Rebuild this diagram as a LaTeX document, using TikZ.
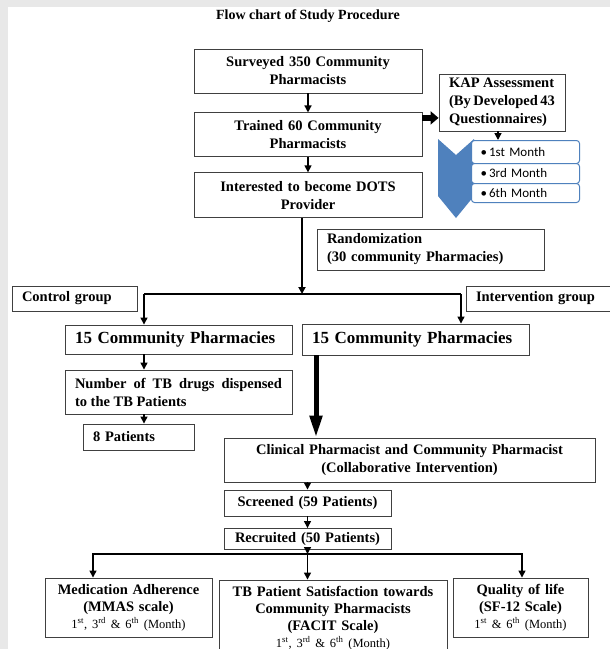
\documentclass[tikz,border=0pt]{standalone}
\usepackage{fontspec}
\setmainfont{Liberation Serif}
\newfontfamily\listfont{Carlito}
\usetikzlibrary{arrows.meta,positioning}
\definecolor{pagegrey}{RGB}{232,232,232}
\definecolor{officeblue}{RGB}{79,129,189}
\newcommand\flowfont{\bfseries\fontsize{14.5}{18}\selectfont}
\newcommand\bigflowfont{\bfseries\fontsize{17}{20}\selectfont}
\newcommand\monthfont{\mdseries\fontsize{12.5}{15}\selectfont}

\begin{document}
\begin{tikzpicture}[
  x=1pt,
  y=-1pt,
  procbox/.style={
    draw=black!75,
    line width=0.9pt,
    fill=white,
    inner xsep=10pt,
    inner ysep=2pt,
    font=\flowfont
  },
  listbox/.style={
    draw=officeblue,
    line width=1pt,
    fill=white,
    rounded corners=3pt,
    inner xsep=9pt,
    inner ysep=0pt,
    text width=90pt,
    align=left,
    anchor=north west,
    font=\listfont\fontsize{13}{15}\selectfont
  },
  thinarrow/.style={-{Triangle[width=7pt,length=7pt]},line width=1.4pt},
  trunk/.style={-{Triangle[width=7pt,length=7pt]},line width=2pt},
  bigarrow/.style={-{Triangle[width=13pt,length=8pt]},line width=6pt}
]
  \useasboundingbox (0,0) rectangle (610,649);
  \fill[pagegrey] (0,0) rectangle (610,649);
  \fill[white] (8,7) rectangle (610,649);

  \node[font=\bfseries\fontsize{14}{17}\selectfont] (title) at (308,16) {Flow chart of Study Procedure};

  \node[procbox,text width=208pt,minimum height=44pt,align=center] (surv) at (308,71)
    {Surveyed 350 Community\\Pharmacists};
  \node[procbox,text width=208pt,minimum height=44pt,align=center,below=19pt of surv] (train)
    {Trained 60 Community\\Pharmacists};
  \node[procbox,text width=208pt,minimum height=45pt,align=center,below=15pt of train] (dots)
    {Interested to become DOTS\\Provider};

  \node[procbox,text width=106pt,minimum height=57pt,align=justify] (kap) at (502,102.5)
    {KAP Assessment\\(By Developed 43\linebreak Questionnaires)};

  \fill[officeblue] (438,139) -- (456,155) -- (474,139) -- (474,196) -- (456,218) -- (438,196) -- cycle;
  \node[listbox,minimum height=23pt] (m1) at (471,140) {\textbullet\,1st Month};
  \node[listbox,minimum height=20pt] (m3) at (471,163) {\textbullet\,3rd Month};
  \node[listbox,minimum height=19pt] (m6) at (471,183) {\textbullet\,6th Month};

  \node[procbox,text width=207pt,minimum height=41pt,align=left] (rand) at (430.5,249.5)
    {Randomization\\(30 community Pharmacies)};
  \node[procbox,text width=105pt,minimum height=25pt,align=left] (ctrl) at (74.5,298.5) {Control group};
  \node[procbox,text width=140pt,minimum height=25pt,align=left] (intv) at (546,298.5) {Intervention group};

  \node[procbox,font=\bigflowfont,text width=207pt,minimum height=29pt,align=left] (cpl) at (178.5,339.5)
    {15 Community Pharmacies};
  \node[procbox,font=\bigflowfont,text width=207pt,minimum height=31pt,align=left] (cpr) at (415.5,339.5)
    {15 Community Pharmacies};
  \node[procbox,text width=207pt,minimum height=44pt,align=justify] (drug) at (178.5,392)
    {Number of TB drugs dispensed\linebreak to the TB Patients};
  \node[procbox,text width=91pt,minimum height=26pt,align=left] (pat8) at (138.5,437) {8 Patients};

  \node[procbox,text width=351pt,minimum height=44pt,align=center] (clin) at (409.5,460)
    {Clinical Pharmacist and Community Pharmacist\\(Collaborative Intervention)};
  \node[procbox,text width=147pt,minimum height=26pt,align=center] (scr) at (307.5,503) {Screened (59 Patients)};
  \node[procbox,text width=147pt,minimum height=21pt,align=center] (recr) at (307.5,539) {Recruited (50 Patients)};

  \node[procbox,text width=147pt,minimum height=59pt,align=center,font=\bfseries\fontsize{14.5}{17}\selectfont] (med) at (128.5,607.5)
    {Medication Adherence\\(MMAS scale)\\{\monthfont 1\textsuperscript{st}, 3\textsuperscript{rd} \& 6\textsuperscript{th} (Month)}};
  \node[procbox,text width=208pt,minimum height=76pt,align=center,font=\bfseries\fontsize{14.5}{17}\selectfont] (tb) at (333,618)
    {TB Patient Satisfaction towards\\Community Pharmacists\\(FACIT Scale)\\{\monthfont 1\textsuperscript{st}, 3\textsuperscript{rd} \& 6\textsuperscript{th} (Month)}};
  \node[procbox,text width=115pt,minimum height=59pt,align=center,font=\bfseries\fontsize{14.5}{17}\selectfont] (qol) at (520.5,607.5)
    {Quality of life\\(SF-12 Scale)\\{\monthfont 1\textsuperscript{st} \& 6\textsuperscript{th} (Month)}};

  \coordinate (split) at (302,294);
  \coordinate (ctrlturn) at (144,294);
  \coordinate (intvturn) at (461,294);
  \coordinate (dropx) at (316,0);
  \coordinate (fork) at (307.5,554);
  \coordinate (medx) at (93,0);
  \coordinate (qolx) at (522,0);

  \draw[thinarrow] (surv) -- (train);
  \draw[thinarrow] (train) -- (dots);
  \draw[bigarrow] ([yshift=17pt]train.east) -- ([yshift=17pt]train.east -| kap.west);
  \draw[thinarrow] ([xshift=-4pt]kap.south) -- ([xshift=-4pt]kap.south |- m1.north);

  \draw[trunk] (split |- dots.south) -- (split);
  \draw[line width=1.8pt] (ctrlturn) -- (intvturn);
  \draw[thinarrow] (ctrlturn) -- (ctrlturn |- cpl.north);
  \draw[thinarrow] (intvturn) -- (intvturn |- cpr.north);
  \draw[thinarrow] (ctrlturn |- cpl.south) -- (ctrlturn |- drug.north);
  \draw[thinarrow] (ctrlturn |- drug.south) -- (ctrlturn |- pat8.north);
  \draw[-{Triangle[width=12pt,length=22pt]},line width=5pt] (cpr.south -| dropx) -- (clin.north -| dropx);

  \draw[thinarrow] (scr.north |- clin.south) -- (scr.north);
  \draw[thinarrow] (scr) -- (recr);
  \draw[thinarrow] (recr.south) -- (fork);
  \draw[thinarrow] (fork) -- (fork |- tb.north);
  \draw[thinarrow] (fork) -| (med.north -| medx);
  \draw[thinarrow] (fork) -| (qol.north -| qolx);
\end{tikzpicture}
\end{document}
